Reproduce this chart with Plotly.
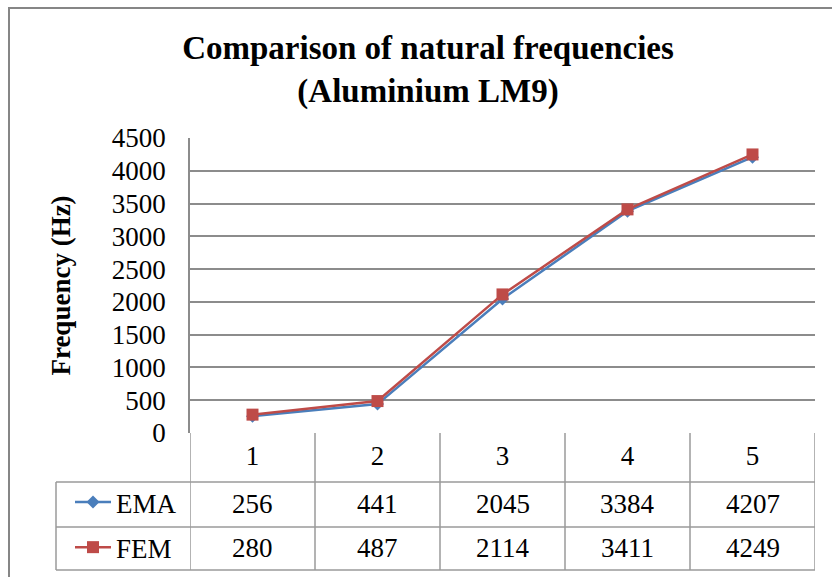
import plotly.graph_objects as go

# ---- data ----
modes = [1, 2, 3, 4, 5]
mode_labels = ["1", "2", "3", "4", "5"]
ema = [256, 441, 2045, 3384, 4207]
fem = [280, 487, 2114, 3411, 4249]
series_names = ["EMA", "FEM"]
y_ticks = [0, 500, 1000, 1500, 2000, 2500, 3000, 3500, 4000, 4500]

# ---- layout helpers (pixels -> paper) ----
W, H = 832, 577
L, R, T, B = 190, 815, 138, 433


def px_x(px):
    return (px - L) / (R - L)


def px_y(py):
    return (B - py) / (B - T)


FONT = "Liberation Serif"
GRID = "#8c8c8c"
TBL = "#9a9a9a"
BLUE = "#4a7ebb"
RED = "#be4b48"

fig = go.Figure()
fig.add_trace(go.Scatter(
    x=modes, y=ema, name=series_names[0], mode="lines+markers",
    legendgroup="a",
    line=dict(color=BLUE, width=2.5),
    marker=dict(symbol="diamond", size=10, color=BLUE),
))
fig.add_trace(go.Scatter(
    x=modes, y=fem, name=series_names[1], mode="lines+markers",
    legendgroup="b",
    line=dict(color=RED, width=2.5),
    marker=dict(symbol="square", size=12, color=RED),
))

shapes = []
# outer chart border (left/top visible)
shapes.append(dict(type="rect", xref="paper", yref="paper",
                   x0=px_x(9), x1=px_x(900), y0=px_y(8), y1=px_y(700),
                   line=dict(color="#868686", width=2), layer="below"))
# table vertical lines at category boundaries
for k in range(len(modes) + 1):
    xb = modes[0] - 0.5 + k
    shapes.append(dict(type="line", xref="x", yref="paper",
                       x0=xb, x1=xb, y0=px_y(433), y1=px_y(570),
                       line=dict(color=TBL, width=1.5)))
# table horizontal lines
for py in [482, 527, 570]:
    shapes.append(dict(type="line", xref="paper", yref="paper",
                       x0=px_x(56), x1=1, y0=px_y(py), y1=px_y(py),
                       line=dict(color=TBL, width=1.5)))
shapes.append(dict(type="line", xref="paper", yref="paper",
                   x0=px_x(56), x1=px_x(56), y0=px_y(482), y1=px_y(570),
                   line=dict(color=TBL, width=1.5)))

annotations = []
for row_y, vals in [(504, ema), (548, fem)]:
    for m, v in zip(modes, vals):
        annotations.append(dict(x=m, y=px_y(row_y), xref="x", yref="paper",
                                text=str(v), showarrow=False,
                                xanchor="center", yanchor="middle",
                                font=dict(family=FONT, size=27, color="black")))

fig.update_layout(
    width=W, height=H,
    margin=dict(l=L, r=W - R, t=T, b=H - B, pad=0, autoexpand=False),
    paper_bgcolor="white", plot_bgcolor="white",
    font=dict(family=FONT, size=27, color="black"),
    title=dict(text="<b>Comparison of natural frequencies</b><br><b>(Aluminium LM9)</b>",
               x=428 / W, xanchor="center", xref="container",
               y=1 - 59 / H, yanchor="top", yref="container",
               font=dict(family=FONT, size=33, color="black")),
    xaxis=dict(range=[0.5, 5.5], tickvals=modes, ticktext=mode_labels,
               showgrid=False, zeroline=False, showline=False, ticks="",
               automargin=False,
               tickfont=dict(family=FONT, size=27), ticklabelstandoff=4),
    yaxis=dict(range=[0, 4500], tickvals=y_ticks, showgrid=True,
               gridcolor=GRID, gridwidth=1.5, zeroline=False,
               showline=True, linecolor=GRID, linewidth=1.5, ticks="",
               automargin=False,
               tickfont=dict(family=FONT, size=27), ticklabelstandoff=17,
               title=dict(text="<b>Frequency (Hz)</b>", standoff=33,
                          font=dict(family=FONT, size=27))),
    showlegend=True,
    legend=dict(x=px_x(70), y=px_y(478), xanchor="left", yanchor="top",
                xref="paper", yref="paper", bgcolor="rgba(0,0,0,0)",
                font=dict(family=FONT, size=27), tracegroupgap=7,
                itemwidth=36),
    shapes=shapes,
    annotations=annotations,
)

fig.write_html("out.html",
               config={"displayModeBar": False},
               post_script="document.body.style.margin='0';"
                           "document.body.style.overflow='hidden';")
